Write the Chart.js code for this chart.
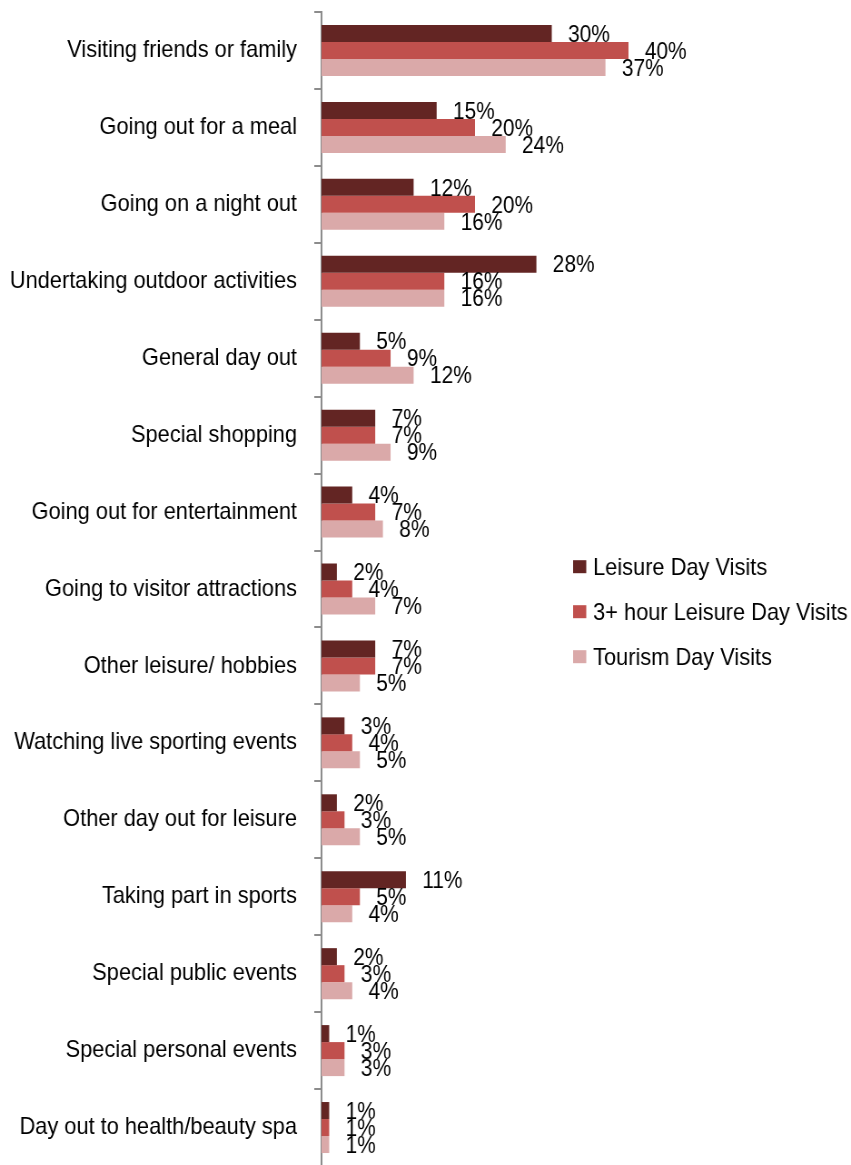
<!DOCTYPE html>
<html>
<head>
<meta charset="utf-8">
<title>Day visit activities</title>
<script src="https://cdn.jsdelivr.net/npm/chart.js@4/dist/chart.umd.min.js"></script>
<style>
  html, body { margin: 0; padding: 0; background: #fff; overflow: hidden; }
  #wrap { width: 851px; height: 1165px; overflow: hidden; }
</style>
</head>
<body>
<div id="wrap">
  <!-- drawn 937 wide and shown 851 wide, giving the condensed text look -->
  <canvas id="chart" width="937" height="1166" style="width:851px;height:1166px;display:block;"></canvas>
</div>
<script>
const categories = [
  'Visiting friends or family',
  'Going out for a meal',
  'Going on a night out',
  'Undertaking outdoor activities',
  'General day out',
  'Special shopping',
  'Going out for entertainment',
  'Going to visitor attractions',
  'Other leisure/ hobbies',
  'Watching live sporting events',
  'Other day out for leisure',
  'Taking part in sports',
  'Special public events',
  'Special personal events',
  'Day out to health/beauty spa'
];
const seriesNames = ['Leisure Day Visits', '3+ hour Leisure Day Visits', 'Tourism Day Visits'];
const leisureDayVisits   = [30, 15, 12, 28, 5, 7, 4, 2, 7, 3, 2, 11, 2, 1, 1];
const threeHourVisits    = [40, 20, 20, 16, 9, 7, 7, 4, 7, 4, 3, 5, 3, 3, 1];
const tourismDayVisits   = [37, 24, 16, 16, 12, 9, 8, 7, 5, 5, 5, 4, 4, 3, 1];
const seriesColors = ['#632523', '#C0504D', '#DAA9A9'];

const FONT = '"Liberation Sans", Arial, sans-serif';

// value labels to the right of each bar
const valueLabels = {
  id: 'valueLabels',
  afterDatasetsDraw(chart) {
    const ctx = chart.ctx;
    ctx.save();
    ctx.font = '23px ' + FONT;
    ctx.fillStyle = '#000';
    ctx.textAlign = 'left';
    ctx.textBaseline = 'alphabetic';
    chart.data.datasets.forEach((ds, di) => {
      const meta = chart.getDatasetMeta(di);
      meta.data.forEach((bar, i) => {
        ctx.fillText(ds.data[i] + '%', bar.x + 18, bar.y + 8.2);
      });
    });
    ctx.restore();
  }
};

// legend block placed at the right side of the plot
const sideLegend = {
  id: 'sideLegend',
  afterDraw(chart) {
    const ctx = chart.ctx;
    ctx.save();
    ctx.font = '24px ' + FONT;
    ctx.textBaseline = 'alphabetic';
    const x0 = 631, y0 = 566.7, step = 45;
    chart.data.datasets.forEach((ds, i) => {
      const cy = y0 + i * step;
      ctx.fillStyle = ds.backgroundColor;
      ctx.fillRect(x0, cy - 6.5, 14.5, 13);
      ctx.fillStyle = '#000';
      ctx.fillText(ds.label, x0 + 22, cy + 8.6);
    });
    ctx.restore();
  }
};

const values = [leisureDayVisits, threeHourVisits, tourismDayVisits];

new Chart(document.getElementById('chart'), {
  type: 'bar',
  data: {
    labels: categories,
    datasets: seriesNames.map((name, i) => ({
      label: name,
      data: values[i],
      backgroundColor: seriesColors[i],
      borderWidth: 0,
      categoryPercentage: 0.663,
      barPercentage: 1.0
    }))
  },
  options: {
    indexAxis: 'y',
    responsive: false,
    animation: false,
    events: [],
    layout: { padding: { left: 0, right: 76, top: 12, bottom: 0 } },
    plugins: {
      legend: { display: false },
      tooltip: { enabled: false }
    },
    scales: {
      x: {
        display: false,
        min: 0,
        max: 60
      },
      y: {
        afterFit(scale) {
          scale.width = 354;
          scale.paddingTop = 0;
          scale.paddingBottom = 0;
        },
        grid: {
          display: true,
          drawOnChartArea: false,
          drawTicks: true,
          tickLength: 8,
          color: '#8C8C8C',
          lineWidth: 2,
          offset: true
        },
        border: { display: true, color: '#8C8C8C', width: 2 },
        ticks: {
          color: '#000',
          font: { family: FONT, size: 24 },
          padding: 19
        }
      }
    }
  },
  plugins: [valueLabels, sideLegend]
});
</script>
</body>
</html>
